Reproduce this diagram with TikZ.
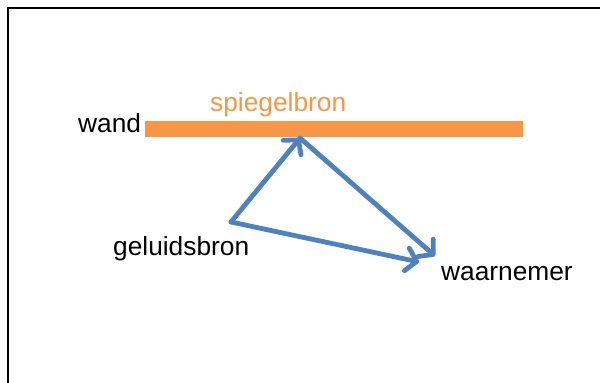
\documentclass[tikz,border=0pt]{standalone}
\usepackage{fontspec}
\setmainfont{Liberation Sans}
\usetikzlibrary{arrows.meta}
\definecolor{wallorange}{HTML}{F79646}
\definecolor{rayblue}{HTML}{4F81BD}
\begin{document}
\begin{tikzpicture}[x=1pt,y=-1pt,
  lbl/.style={inner sep=0pt,anchor=base west,font=\fontsize{26.3pt}{29pt}\selectfont},
  ray/.style={draw=rayblue,line width=4.8pt,line cap=round,line join=round,
    -{Straight Barb[length=10pt,width=23pt,line cap=round,line join=round]}}]
\useasboundingbox (0,0) rectangle (600,383);
\clip (0,0) rectangle (600,383);
\draw[line width=2pt] (7.5,8) rectangle (640,420);
\fill[wallorange] (145,121) rectangle (523,136.5);
\node[lbl] (wand) at (78,132) {wand};
\node[lbl,text=wallorange] (spiegel) at (210,111) {spiegelbron};
\node[lbl] (bron) at (113,255) {geluidsbron};
\node[lbl] (waar) at (441,280) {waarnemer};
\coordinate (src) at (231,222);
\coordinate (mir) at (300,138);
\coordinate (obs) at (435,256);
\coordinate (obs2) at (419,262);
\draw[ray] (src) -- (mir);
\draw[ray] (mir) -- (obs);
\draw[ray] (src) -- (obs2);
\end{tikzpicture}
\end{document}
